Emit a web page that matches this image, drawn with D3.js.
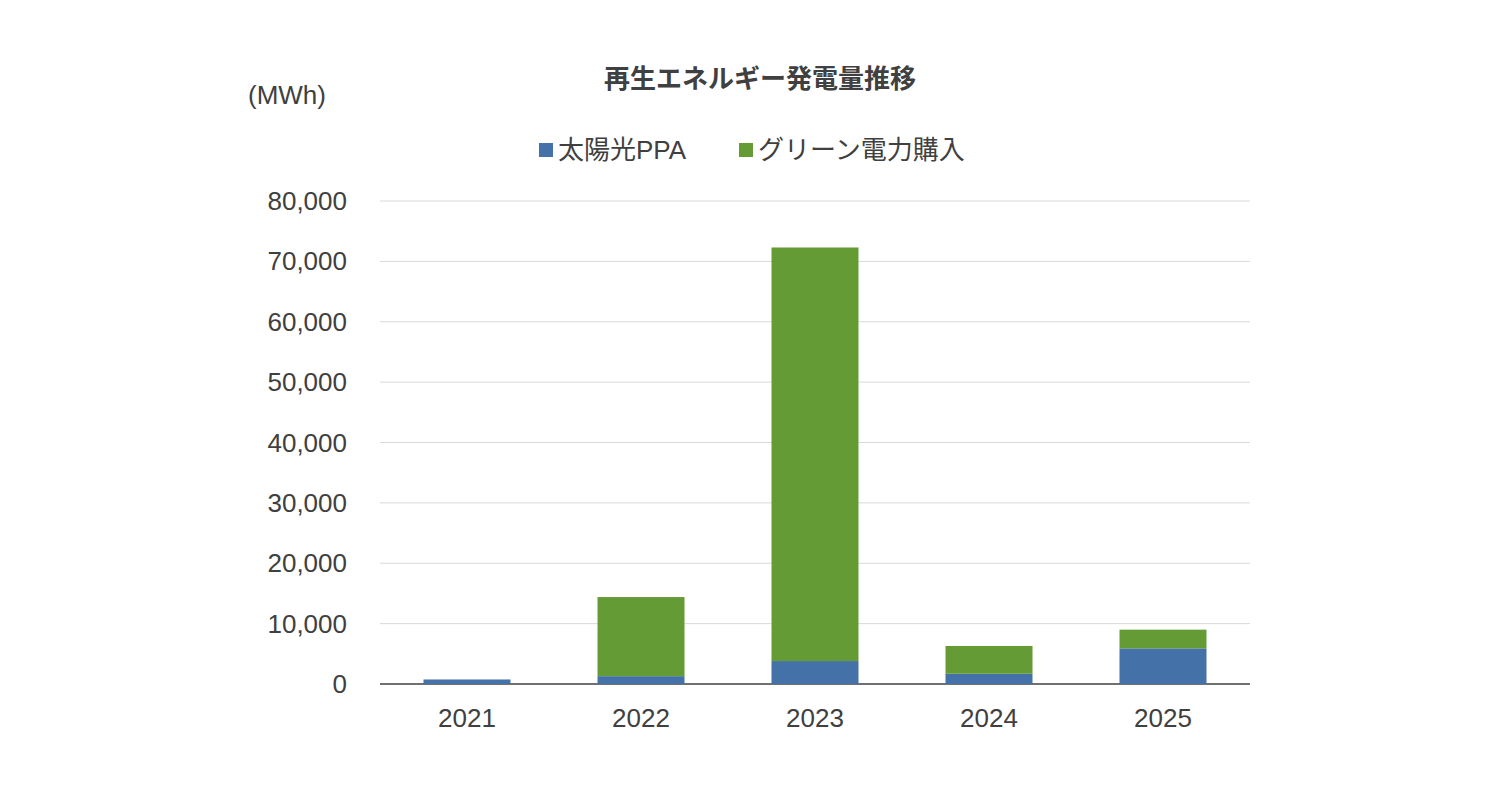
<!DOCTYPE html><html><head><meta charset="utf-8"><script src="https://d3js.org/d3.v7.min.js"></script>
<style>body{margin:0;background:#fff}text{font-family:"Liberation Sans","Noto Sans CJK JP",sans-serif;fill:#404040}</style></head><body><svg width="1500" height="792"></svg><script>
const years=["2021","2022","2023","2024","2025"];
const solar=[750,1300,3800,1700,5900];
const green=[0,13100,68500,4600,3100];
const ticks=[0,10000,20000,30000,40000,50000,60000,70000,80000];
const svg=d3.select("svg");
const x=d3.scaleBand().domain(years).range([380,1250]).paddingInner(0.5).paddingOuter(0.25);
const y=d3.scaleLinear().domain([0,80000]).range([684,201]);
ticks.forEach(t=>{svg.append("line").attr("x1",380).attr("x2",1250).attr("y1",y(t)).attr("y2",y(t)).attr("stroke",t?"#d9d9d9":"#404040").attr("stroke-width",t?1:1.5);
svg.append("text").attr("x",347).attr("y",y(t)+9).attr("text-anchor","end").attr("font-size",26).text(d3.format(",")(t));});
years.forEach((yr,i)=>{
svg.append("rect").attr("x",x(yr)).attr("width",x.bandwidth()).attr("y",y(solar[i])).attr("height",y(0)-y(solar[i])).attr("fill","#4472a8");
if(green[i])svg.append("rect").attr("x",x(yr)).attr("width",x.bandwidth()).attr("y",y(solar[i]+green[i])).attr("height",y(solar[i])-y(solar[i]+green[i])).attr("fill","#659b34");
svg.append("text").attr("x",x(yr)+x.bandwidth()/2).attr("y",727).attr("text-anchor","middle").attr("font-size",26).text(yr);});
svg.append("text").attr("x",760).attr("y",88).attr("text-anchor","middle").attr("font-size",26).attr("font-weight","bold").text("再生エネルギー発電量推移");
svg.append("text").attr("x",248).attr("y",104).attr("font-size",26).text("(MWh)");
svg.append("rect").attr("x",539).attr("y",143).attr("width",14).attr("height",14).attr("fill","#4472a8");
svg.append("text").attr("x",558).attr("y",159).attr("font-size",26).text("太陽光PPA");
svg.append("rect").attr("x",739).attr("y",143).attr("width",14).attr("height",14).attr("fill","#659b34");
svg.append("text").attr("x",758).attr("y",159).attr("font-size",26).text("グリーン電力購入");
</script></body></html>
